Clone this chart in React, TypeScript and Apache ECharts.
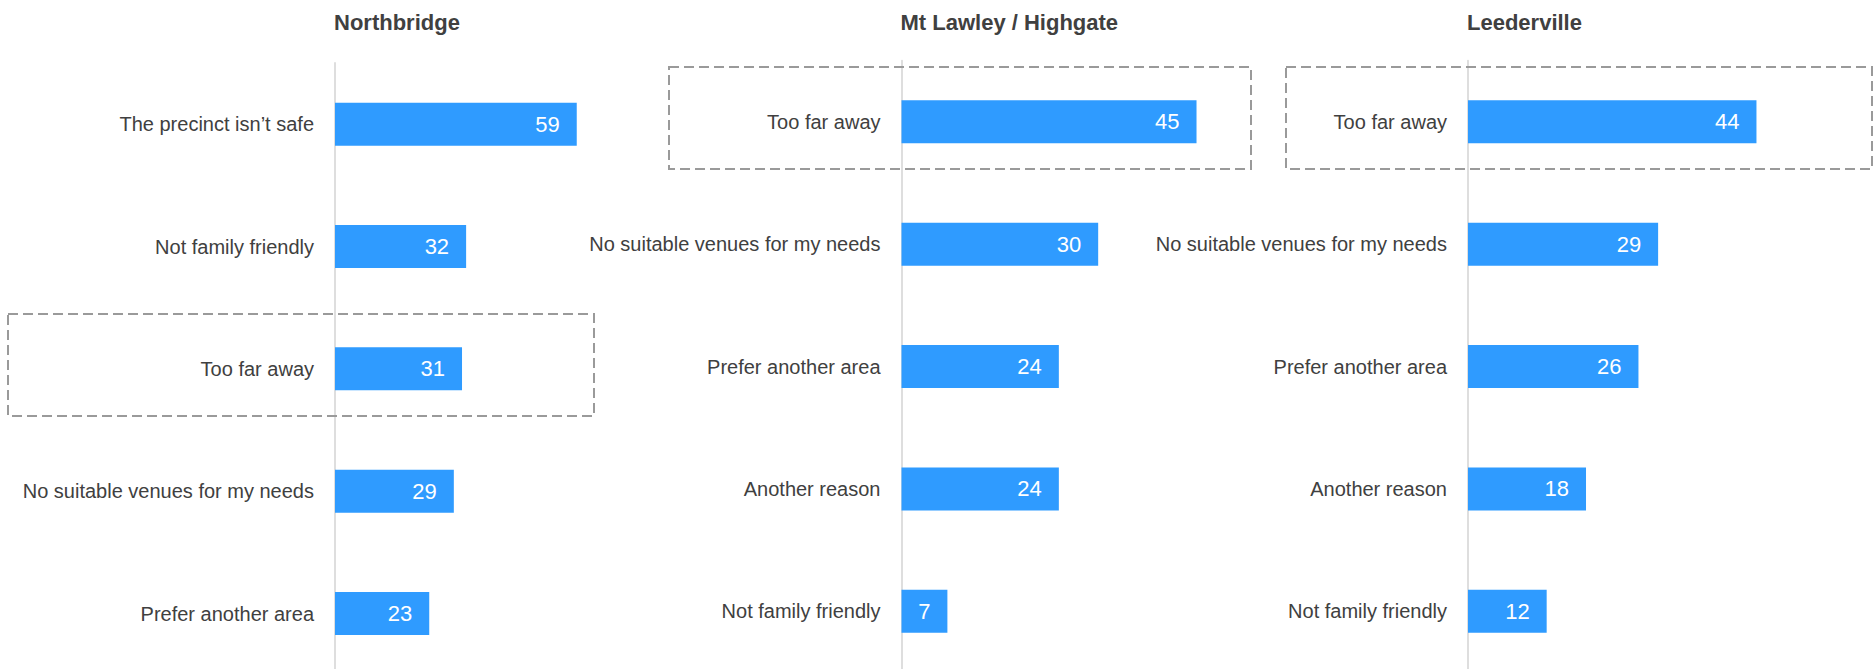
import React, { useEffect, useRef } from "react";
import * as echarts from "echarts";

const titles = ["Northbridge", "Mt Lawley / Highgate", "Leederville"];

const northbridgeCategories = [
  "The precinct isn’t safe",
  "Not family friendly",
  "Too far away",
  "No suitable venues for my needs",
  "Prefer another area",
];
const northbridgeValues = [59, 32, 31, 29, 23];

const mtLawleyCategories = [
  "Too far away",
  "No suitable venues for my needs",
  "Prefer another area",
  "Another reason",
  "Not family friendly",
];
const mtLawleyValues = [45, 30, 24, 24, 7];

const leedervilleCategories = [
  "Too far away",
  "No suitable venues for my needs",
  "Prefer another area",
  "Another reason",
  "Not family friendly",
];
const leedervilleValues = [44, 29, 26, 18, 12];

const axisMax = [80, 50, 50];

const FONT = "'Liberation Sans Narrow', 'Arial Narrow', 'Liberation Sans', Arial, sans-serif";
const BAR = "#2f9bff";
const TEXT = "#404040";

export default function App() {
  const ref = useRef<HTMLDivElement>(null);

  useEffect(() => {
    document.body.style.margin = "0";
    if (!ref.current) return;
    const chart = echarts.init(ref.current, undefined, { renderer: "svg" });

    const panels = [
      { cats: northbridgeCategories, vals: northbridgeValues },
      { cats: mtLawleyCategories, vals: mtLawleyValues },
      { cats: leedervilleCategories, vals: leedervilleValues },
    ];
    const lefts = [335, 901.5, 1468];
    const tops = [63, 60.7, 60.7];
    const width = 327.8;
    const height = 611.7;

    const grid = panels.map((_, i) => ({
      left: lefts[i],
      top: tops[i],
      width,
      height,
      containLabel: false,
      outerBoundsMode: "none",
    }));
    const xAxis = panels.map((_, i) => ({
      type: "value" as const,
      gridIndex: i,
      min: 0,
      max: axisMax[i],
      show: false,
      splitLine: { show: false },
    }));
    const yAxis = panels.map((p, i) => ({
      type: "category" as const,
      gridIndex: i,
      data: p.cats,
      inverse: true,
      axisLine: { show: true, lineStyle: { color: "#dedede", width: 2 } },
      axisTick: { show: false },
      axisLabel: {
        margin: 21,
        fontSize: 20,
        color: TEXT,
        fontFamily: FONT,
      },
    }));
    const series = panels.map((p, i) => ({
      type: "bar" as const,
      xAxisIndex: i,
      yAxisIndex: i,
      data: p.vals,
      barWidth: 43,
      itemStyle: { color: BAR },
      label: {
        show: true,
        position: "insideRight" as const,
        distance: 17,
        color: "#ffffff",
        fontSize: 22,
        fontFamily: FONT,
      },
    }));
    const title = titles.map((t, i) => ({
      text: t,
      left: lefts[i] - 1,
      top: 11,
      padding: 0,
      textStyle: {
        fontSize: 22,
        fontWeight: "bold" as const,
        color: TEXT,
        fontFamily: FONT,
      },
    }));

    const dashed = {
      fill: "none",
      stroke: "#9a9a9a",
      lineWidth: 2,
      lineDash: [10, 5],
    };
    const boxes = [
      { x: 8, y: 314, w: 586, h: 102 },
      { x: 669, y: 67, w: 582, h: 102 },
      { x: 1286, y: 67, w: 586, h: 102 },
    ];

    chart.setOption({
      animation: false,
      backgroundColor: "#ffffff",
      title,
      grid,
      xAxis,
      yAxis,
      series,
      graphic: boxes.map((b) => ({
        type: "rect",
        shape: { x: b.x, y: b.y, width: b.w, height: b.h },
        style: dashed,
        silent: true,
        z: 10,
      })),
    });

    return () => chart.dispose();
  }, []);

  return <div ref={ref} style={{ width: 1874, height: 669 }} />;
}
